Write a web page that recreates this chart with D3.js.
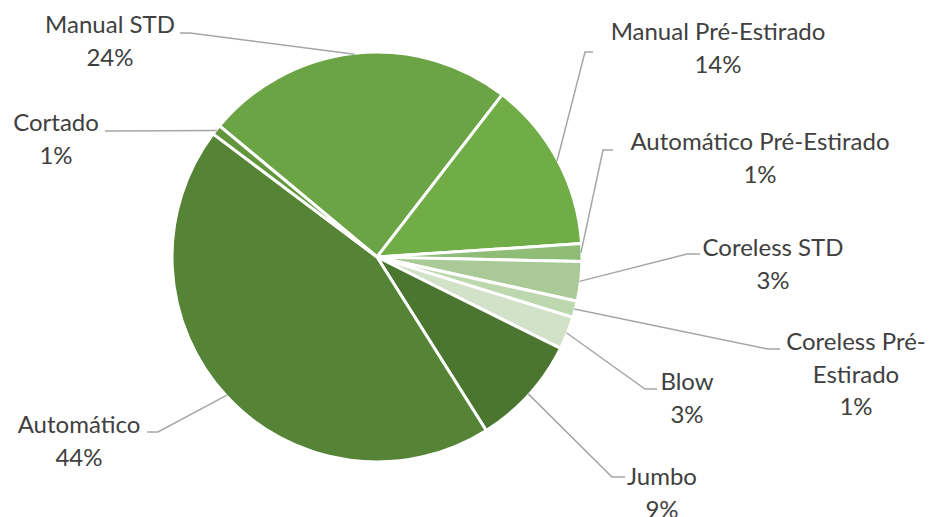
<!DOCTYPE html>
<html>
<head>
<meta charset="utf-8">
<script src="https://cdn.jsdelivr.net/npm/d3@7"></script>
<style>
  html, body { margin: 0; padding: 0; background: #fff; }
  svg { display: block; }
</style>
</head>
<body>
<div id="chart"></div>
<script>
// data, in drawing order (clockwise)
var categories = ["Manual STD", "Manual Pré-Estirado", "Automático Pré-Estirado", "Coreless STD",
    "Coreless Pré-Estirado", "Blow", "Jumbo", "Automático", "Cortado"];
var values = [24.4, 13.5, 1.4, 3.1, 1.3, 2.6, 8.7, 44.2, 0.8];
var colors = ["#6aa444", "#70ad47", "#8fbc76", "#a9ca97", "#bdd7ae", "#d2e2c8", "#4a762f", "#558437", "#61963c"];

// label layout: text centre x, first baseline, lines, leader start (x, y) and elbow x
var labelLines = [
    ["Manual STD"], ["Manual Pré-Estirado"], ["Automático Pré-Estirado"], ["Coreless STD"],
    ["Coreless Pré-", "Estirado"], ["Blow"], ["Jumbo"], ["Automático"], ["Cortado"]
];
var labelPos = [
    { x: 110, y: 33, lx: 180, ly: 33, ex: 190 },
    { x: 718, y: 40, lx: 593, ly: 52, ex: 585 },
    { x: 760, y: 150, lx: 613, ly: 150, ex: 603 },
    { x: 773, y: 256, lx: 700, ly: 254, ex: 687 },
    { x: 856, y: 350, lx: 780, ly: 349, ex: 768 },
    { x: 687, y: 390, lx: 657, ly: 389, ex: 645 },
    { x: 662, y: 485, lx: 625, ly: 477, ex: 612 },
    { x: 79, y: 433, lx: 147, ly: 432, ex: 158 },
    { x: 56, y: 131, lx: 105, ly: 131, ex: 110 }
];

var width = 934, height = 517;
var cx = 377, cy = 257, radius = 205;
var startDeg = -50.2;
var lineH = 32.5;

var svg = d3.select("#chart")
    .append("svg")
    .attr("width", width)
    .attr("height", height);

var data = categories.map((c, i) => ({ name: c, value: values[i], i: i }));
var total = d3.sum(values);
var fmt = d3.format(".0%");

var pie = d3.pie()
    .value(d => d.value)
    .sort(null)
    .startAngle(startDeg * Math.PI / 180)
    .endAngle(startDeg * Math.PI / 180 + 2 * Math.PI);

var arc = d3.arc().innerRadius(0).outerRadius(radius);
var arcs = pie(data);

var g = svg.append("g")
    .attr("transform", `translate(${cx},${cy})`);

g.selectAll(".slice")
    .data(arcs)
    .join("path")
    .attr("class", "slice")
    .attr("d", arc)
    .attr("fill", d => colors[d.data.i])
    .attr("stroke", "#fff")
    .attr("stroke-width", 3)
    .attr("stroke-linejoin", "round");

// leader lines
svg.selectAll(".leader")
    .data(arcs)
    .join("polyline")
    .attr("class", "leader")
    .attr("points", d => {
        var p = labelPos[d.data.i];
        var a = (d.startAngle + d.endAngle) / 2;
        var r = radius - 1;
        var px = cx + r * Math.sin(a), py = cy - r * Math.cos(a);
        return [[p.lx, p.ly], [p.ex, p.ly], [px, py]].map(q => q.join(",")).join(" ");
    })
    .attr("fill", "none")
    .attr("stroke", "#a6a6a6")
    .attr("stroke-width", 1.5);

// labels
var labels = svg.selectAll(".label")
    .data(arcs)
    .join("text")
    .attr("class", "label")
    .attr("text-anchor", "middle")
    .style("font-family", "Lato, 'Open Sans', sans-serif")
    .style("font-size", "24px")
    .style("fill", "#404040");

labels.each(function(d) {
    var p = labelPos[d.data.i];
    var lines = labelLines[d.data.i].concat([fmt(d.data.value / total)]);
    d3.select(this).selectAll("tspan")
        .data(lines)
        .join("tspan")
        .attr("x", p.x)
        .attr("y", (t, k) => p.y + k * lineH)
        .text(t => t);
});
</script>
</body>
</html>
